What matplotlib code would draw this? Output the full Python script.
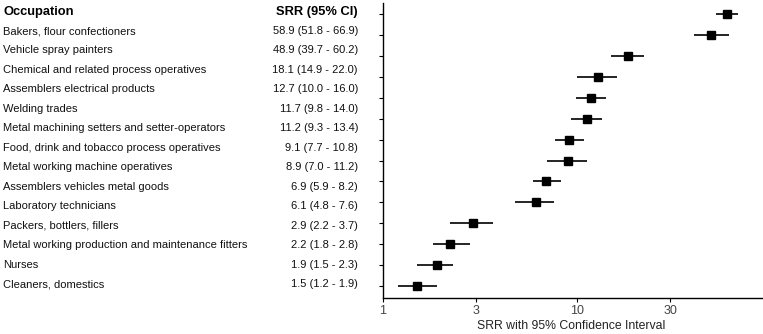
import numpy as np
import matplotlib
matplotlib.use("Agg")
import matplotlib.pyplot as plt
from matplotlib.ticker import FixedLocator, NullLocator

plt.rcParams["font.family"] = ["Liberation Sans", "DejaVu Sans"]

occupations = [
    "Bakers, flour confectioners",
    "Vehicle spray painters",
    "Chemical and related process operatives",
    "Assemblers electrical products",
    "Welding trades",
    "Metal machining setters and setter-operators",
    "Food, drink and tobacco process operatives",
    "Metal working machine operatives",
    "Assemblers vehicles metal goods",
    "Laboratory technicians",
    "Packers, bottlers, fillers",
    "Metal working production and maintenance fitters",
    "Nurses",
    "Cleaners, domestics",
]
srr = [58.9, 48.9, 18.1, 12.7, 11.7, 11.2, 9.1, 8.9, 6.9, 6.1, 2.9, 2.2, 1.9, 1.5]
ci_low = [51.8, 39.7, 14.9, 10.0, 9.8, 9.3, 7.7, 7.0, 5.9, 4.8, 2.2, 1.8, 1.5, 1.2]
ci_high = [66.9, 60.2, 22.0, 16.0, 14.0, 13.4, 10.8, 11.2, 8.2, 7.6, 3.7, 2.8, 2.3, 1.9]
x_ticks = [1, 3, 10, 30]

W, H = 763, 334
fig = plt.figure(figsize=(W / 100, H / 100), dpi=100)

# forest plot axes
ax = fig.add_axes([383 / W, 1 - 298 / H, 1 - 383 / W, (298 - 3) / H])
rows = np.arange(len(srr))
ax.hlines(rows, ci_low, ci_high, color="black", lw=1.2)
ax.plot(srr, rows, "s", color="black", ms=5.5)
ax.set_xscale("log")
ax.set_xlim(1, 90)
ax.set_ylim(len(srr) - 1 + 0.57, -0.53)
ax.xaxis.set_major_locator(FixedLocator(x_ticks))
ax.xaxis.set_minor_locator(NullLocator())
ax.set_xticklabels([str(t) for t in x_ticks])
ax.set_yticks(rows)
ax.set_yticklabels([])
ax.tick_params(axis="both", length=3, width=0.8, labelsize=9, labelcolor="#444444")
ax.tick_params(axis="x", pad=2)
for side in ["top", "right"]:
    ax.spines[side].set_visible(False)
for side in ["left", "bottom"]:
    ax.spines[side].set_linewidth(1.0)

# x-axis title placed directly to keep it inside the canvas
fig.text(571 / W, 1 - 326 / H, "SRR with 95% Confidence Interval",
         fontsize=8.8, color="#222222", ha="center", va="center")

# table on the left
fig.text(4 / W, 1 - 12 / H, "Occupation", fontsize=9.3, fontweight="bold", va="center", ha="left")
fig.text(358 / W, 1 - 12 / H, "SRR (95% CI)", fontsize=9.3, fontweight="bold", va="center", ha="right")
for i, name in enumerate(occupations):
    y = 1 - (31 + 19.47 * i) / H
    fig.text(3 / W, y, name, fontsize=8, va="center", ha="left", color="#111111")
    fig.text(358 / W, y, f"{srr[i]:.1f} ({ci_low[i]:.1f} - {ci_high[i]:.1f})",
             fontsize=8, va="center", ha="right", color="#111111")

fig.savefig("out.png", dpi=100)
